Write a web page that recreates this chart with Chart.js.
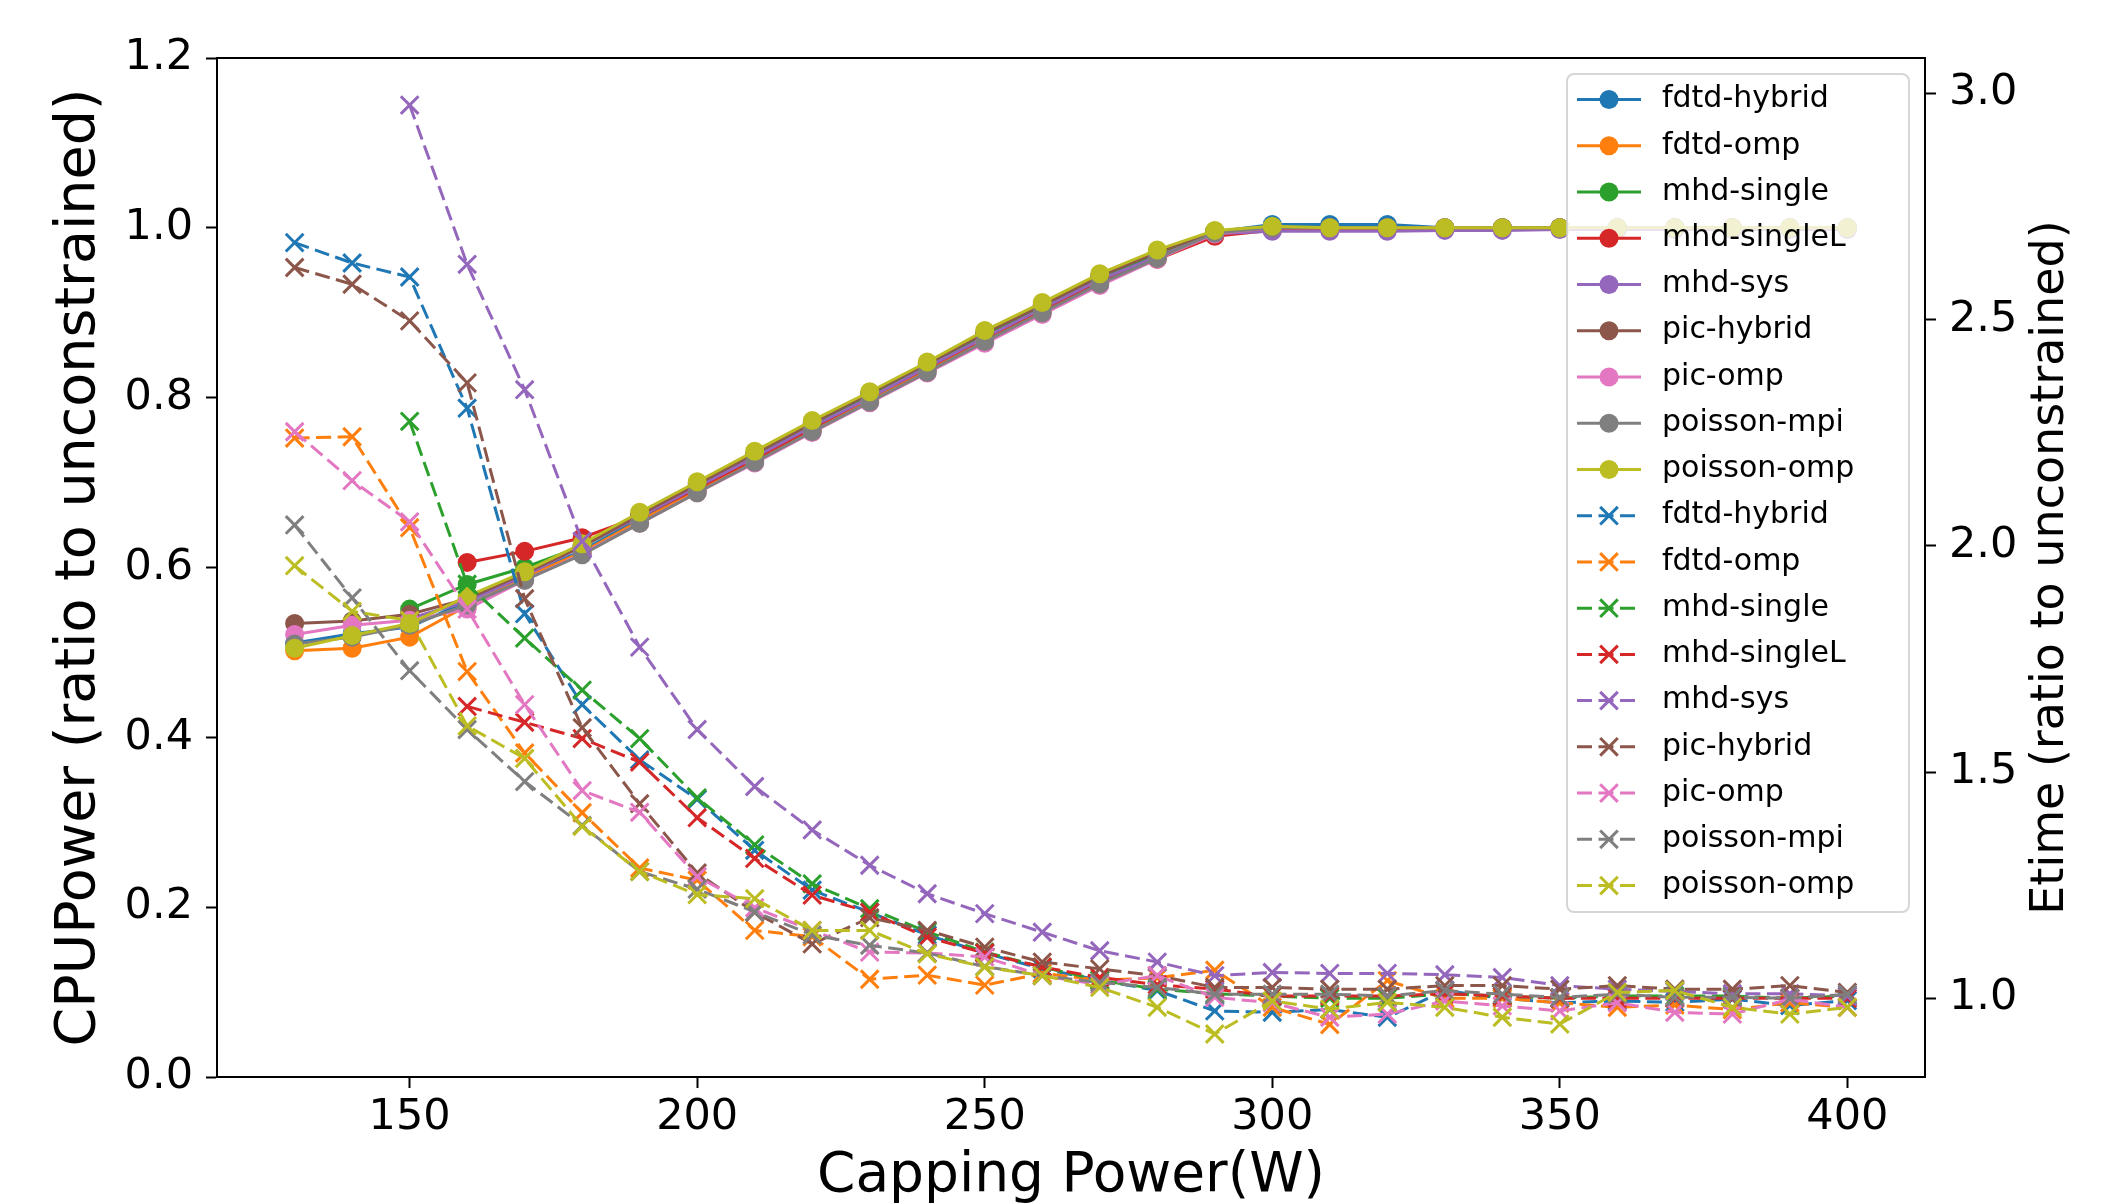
<!DOCTYPE html>
<html lang="en">
<head>
    <meta charset="UTF-8">
    <title>CPUPower and Etime vs Capping Power</title>
    <script src="https://cdn.jsdelivr.net/npm/chart.js"></script>
    <style>
        html, body {
            margin: 0;
            padding: 0;
            background: #fff;
        }

        canvas {
            display: block;
        }
    </style>
</head>
<body>
    <canvas id="powerChart" width="2118" height="1204"></canvas>

    <script>
        // capping power (W)
        const caps = [130, 140, 150, 160, 170, 180, 190, 200, 210, 220, 230, 240, 250, 260,
                      270, 280, 290, 300, 310, 320, 330, 340, 350, 360, 370, 380, 390, 400];

        const appNames = ['fdtd-hybrid', 'fdtd-omp', 'mhd-single', 'mhd-singleL', 'mhd-sys',
                          'pic-hybrid', 'pic-omp', 'poisson-mpi', 'poisson-omp'];
        const appColors = ['#1f77b4', '#ff7f0e', '#2ca02c', '#d62728', '#9467bd',
                           '#8c564b', '#e377c2', '#7f7f7f', '#bcbd22'];

        // CPUPower (ratio to unconstrained) - left axis, solid lines
        const cpuFdtdHybrid = [0.511, 0.522, 0.530, 0.560, 0.590, 0.620, 0.657, 0.693, 0.728, 0.764, 0.799, 0.834, 0.870, 0.904,
                               0.938, 0.968, 0.995, 1.004, 1.004, 1.004, 1.000, 1.000, 1.000, 1.000, 1.000, 1.000, 1.000, 1.000];
        const cpuFdtdOmp = [0.502, 0.505, 0.518, 0.555, 0.588, 0.618, 0.655, 0.690, 0.726, 0.762, 0.797, 0.832, 0.868, 0.902,
                            0.936, 0.966, 0.995, 1.000, 1.000, 1.000, 1.000, 1.000, 1.000, 1.000, 1.000, 1.000, 1.000, 1.000];
        const cpuMhdSingle = [null, null, 0.551, 0.580, 0.600, 0.625, 0.660, 0.696, 0.732, 0.768, 0.803, 0.838, 0.874, 0.908,
                              0.942, 0.970, 0.996, 1.000, 1.000, 1.000, 1.000, 1.000, 1.000, 1.000, 1.000, 1.000, 1.000, 1.000];
        const cpuMhdSingleL = [null, null, null, 0.606, 0.619, 0.635, 0.660, 0.693, 0.728, 0.764, 0.800, 0.835, 0.870, 0.904,
                               0.937, 0.963, 0.990, 0.997, 0.998, 0.998, 0.999, 0.999, 1.000, 1.000, 1.000, 1.000, 1.000, 1.000];
        const cpuMhdSys = [null, null, 0.540, 0.560, 0.590, 0.625, 0.660, 0.695, 0.730, 0.766, 0.800, 0.836, 0.871, 0.905,
                           0.939, 0.966, 0.993, 0.996, 0.996, 0.996, 0.997, 0.997, 0.998, 0.998, 0.998, 0.998, 0.998, 0.998];
        const cpuPicHybrid = [0.534, 0.537, 0.545, 0.563, 0.593, 0.625, 0.662, 0.698, 0.734, 0.770, 0.805, 0.840, 0.876, 0.909,
                              0.943, 0.971, 0.996, 1.000, 1.000, 1.000, 1.000, 1.000, 1.000, 1.000, 1.000, 1.000, 1.000, 1.000];
        const cpuPicOmp = [0.521, 0.532, 0.538, 0.551, 0.585, 0.616, 0.652, 0.688, 0.723, 0.759, 0.794, 0.829, 0.864, 0.898,
                           0.932, 0.963, 0.993, 1.000, 1.000, 1.000, 1.000, 1.000, 1.000, 1.000, 1.000, 1.000, 1.000, 1.000];
        const cpuPoissonMpi = [0.510, 0.518, 0.532, 0.556, 0.585, 0.615, 0.652, 0.688, 0.724, 0.760, 0.795, 0.830, 0.866, 0.900,
                               0.934, 0.964, 0.994, 1.000, 1.000, 1.000, 1.000, 1.000, 1.000, 1.000, 1.000, 1.000, 1.000, 1.000];
        const cpuPoissonOmp = [0.505, 0.520, 0.534, 0.566, 0.595, 0.628, 0.665, 0.701, 0.737, 0.773, 0.807, 0.842, 0.879, 0.912,
                               0.946, 0.974, 0.997, 1.002, 1.000, 1.000, 1.000, 1.000, 1.000, 1.000, 1.000, 1.000, 1.000, 1.000];

        // Etime (ratio to unconstrained) - right axis, dashed lines
        const etFdtdHybrid = [2.670, 2.625, 2.594, 2.304, 1.850, 1.649, 1.527, 1.440, 1.327, 1.239, 1.190, 1.140, 1.100, 1.065,
                              1.040, 1.017, 0.972, 0.969, 0.975, 0.958, 1.017, 1.000, 0.990, 0.994, 0.991, 0.998, 0.984, 0.995];
        const etFdtdOmp = [2.238, 2.241, 2.040, 1.722, 1.542, 1.410, 1.288, 1.261, 1.150, 1.136, 1.042, 1.051, 1.029, 1.055,
                           1.040, 1.045, 1.062, 0.980, 0.942, 1.039, 1.000, 1.000, 0.990, 0.980, 0.985, 0.975, 0.990, 0.980];
        const etMhdSingle = [null, null, 2.275, 1.915, 1.796, 1.681, 1.574, 1.443, 1.339, 1.253, 1.198, 1.147, 1.102, 1.069,
                             1.040, 1.020, 1.010, 1.005, 1.000, 1.000, 1.010, 1.005, 1.000, 1.005, 1.005, 1.005, 1.000, 1.005];
        const etMhdSingleL = [null, null, null, 1.645, 1.610, 1.574, 1.522, 1.399, 1.309, 1.228, 1.190, 1.135, 1.100, 1.069,
                              1.046, 1.030, 1.020, 1.005, 1.005, 1.005, 1.010, 1.005, 1.000, 1.000, 1.000, 1.000, 1.000, 1.000];
        const etMhdSys = [null, null, 2.974, 2.622, 2.345, 2.010, 1.776, 1.594, 1.468, 1.372, 1.294, 1.231, 1.187, 1.146,
                          1.105, 1.080, 1.050, 1.057, 1.055, 1.055, 1.052, 1.046, 1.028, 1.020, 1.015, 1.010, 1.010, 1.005];
        const etPicHybrid = [2.615, 2.578, 2.497, 2.360, 1.883, 1.598, 1.430, 1.277, 1.190, 1.120, 1.178, 1.150, 1.113, 1.080,
                             1.065, 1.050, 1.024, 1.024, 1.020, 1.020, 1.028, 1.028, 1.020, 1.028, 1.020, 1.020, 1.028, 1.013];
        const etPicOmp = [2.252, 2.144, 2.053, 1.860, 1.649, 1.459, 1.411, 1.269, 1.200, 1.150, 1.102, 1.100, 1.091, 1.050,
                          1.030, 1.050, 1.002, 0.990, 0.958, 0.965, 0.994, 0.983, 0.972, 0.990, 0.969, 0.965, 0.998, 0.980];
        const etPoissonMpi = [2.046, 1.885, 1.724, 1.594, 1.479, 1.382, 1.280, 1.241, 1.191, 1.140, 1.117, 1.100, 1.070, 1.050,
                              1.035, 1.024, 1.009, 1.009, 1.009, 1.005, 1.017, 1.009, 1.002, 1.009, 1.002, 1.002, 1.000, 1.009];
        const etPoissonOmp = [1.956, 1.855, 1.835, 1.602, 1.530, 1.380, 1.280, 1.229, 1.220, 1.150, 1.150, 1.098, 1.069, 1.050,
                              1.024, 0.980, 0.921, 0.994, 0.976, 0.991, 0.980, 0.958, 0.943, 1.013, 1.017, 0.980, 0.965, 0.980];

        const cpuSeries = [cpuFdtdHybrid, cpuFdtdOmp, cpuMhdSingle, cpuMhdSingleL, cpuMhdSys,
                           cpuPicHybrid, cpuPicOmp, cpuPoissonMpi, cpuPoissonOmp];
        const etimeSeries = [etFdtdHybrid, etFdtdOmp, etMhdSingle, etMhdSingleL, etMhdSys,
                             etPicHybrid, etPicOmp, etPoissonMpi, etPoissonOmp];

        // tick labels
        const xTicks = [150, 200, 250, 300, 350, 400];
        const cpuTicks = [0.0, 0.2, 0.4, 0.6, 0.8, 1.0, 1.2];
        const etimeTicks = [1.0, 1.5, 2.0, 2.5, 3.0];

        const FONT = 'DejaVu Sans';
        const DASH = [15, 6.5];

        function toPoints(values) {
            return caps.map((c, i) => ({ x: c, y: values[i] }));
        }

        const datasets = [];
        cpuSeries.forEach((vals, i) => {
            datasets.push({
                label: appNames[i],
                data: toPoints(vals),
                yAxisID: 'y',
                borderColor: appColors[i],
                backgroundColor: appColors[i],
                borderWidth: 3,
                pointStyle: 'circle',
                pointRadius: 8.5,
                pointBorderWidth: 2,
                pointBackgroundColor: appColors[i],
                pointBorderColor: appColors[i]
            });
        });
        etimeSeries.forEach((vals, i) => {
            datasets.push({
                label: appNames[i],
                data: toPoints(vals),
                yAxisID: 'y1',
                borderColor: appColors[i],
                backgroundColor: appColors[i],
                borderWidth: 3,
                borderDash: DASH,
                pointStyle: 'crossRot',
                pointRadius: 12.5,
                pointBorderWidth: 3,
                pointBorderColor: appColors[i]
            });
        });
        // later series on top, like matplotlib
        datasets.forEach((ds, i) => { ds.order = datasets.length - 1 - i; });

        // frame, legend box and right axis label
        const overlay = {
            id: 'overlay',
            afterDatasetsDraw(chart) {
                const c = chart.ctx;
                const a = chart.chartArea;
                c.save();
                c.strokeStyle = '#000';
                c.lineWidth = 2;
                c.strokeRect(a.left, a.top, a.right - a.left, a.bottom - a.top);

                const bx = a.right - 16, by = a.top + 16;
                const w = 342, h = 838;
                c.beginPath();
                c.roundRect(bx - w, by, w, h, 7);
                c.fillStyle = 'rgba(255,255,255,0.8)';
                c.fill();
                c.strokeStyle = 'rgba(204,204,204,0.8)';
                c.lineWidth = 2;
                c.stroke();

                c.font = '30px "' + FONT + '"';
                c.textBaseline = 'middle';
                c.textAlign = 'left';
                chart.data.datasets.forEach((ds, i) => {
                    const y = by + 25.5 + i * 46.24;
                    const x1 = bx - w + 10, x2 = bx - w + 74, xm = (x1 + x2) / 2;
                    c.strokeStyle = ds.borderColor;
                    c.lineWidth = 3;
                    c.setLineDash(ds.borderDash || []);
                    c.beginPath();
                    c.moveTo(x1, y);
                    c.lineTo(x2, y);
                    c.stroke();
                    c.setLineDash([]);
                    if (ds.pointStyle === 'circle') {
                        c.fillStyle = ds.borderColor;
                        c.beginPath();
                        c.arc(xm, y, 9.5, 0, Math.PI * 2);
                        c.fill();
                    } else {
                        const r = 8.8;
                        c.beginPath();
                        c.moveTo(xm - r, y - r);
                        c.lineTo(xm + r, y + r);
                        c.moveTo(xm - r, y + r);
                        c.lineTo(xm + r, y - r);
                        c.stroke();
                    }
                    c.fillStyle = '#000';
                    c.fillText(ds.label, bx - w + 95, y);
                });

                // right axis title reads bottom to top
                c.translate(2051, (a.top + a.bottom) / 2);
                c.rotate(-Math.PI / 2);
                c.textAlign = 'center';
                c.font = '46px "' + FONT + '"';
                c.fillText('Etime (ratio to unconstrained)', 0, 0);
                c.restore();
            }
        };

        const axisGrid = {
            display: true,
            drawOnChartArea: false,
            drawTicks: true,
            tickLength: 11,
            tickColor: '#000',
            tickWidth: 2
        };
        const axisBorder = { display: true, color: '#000', width: 2 };
        const tickFont = { family: FONT, size: 43 };

        const ctx = document.getElementById('powerChart').getContext('2d');
        const powerChart = new Chart(ctx, {
            type: 'line',
            data: { datasets: datasets },
            options: {
                responsive: false,
                animation: false,
                devicePixelRatio: 1,
                layout: { padding: { top: 58, left: 0, right: 0, bottom: 0 } },
                plugins: {
                    legend: { display: false },
                    tooltip: { enabled: false }
                },
                scales: {
                    x: {
                        type: 'linear',
                        min: 116.5,
                        max: 413.5,
                        afterBuildTicks: s => { s.ticks = xTicks.map(v => ({ value: v })); },
                        afterFit: s => { s.height = 127; },
                        ticks: { font: tickFont, color: '#000', padding: 4, maxRotation: 0, autoSkip: false },
                        grid: axisGrid,
                        border: axisBorder,
                        title: {
                            display: true,
                            text: 'Capping Power(W)',
                            color: '#000',
                            font: { family: FONT, size: 55, lineHeight: 1 },
                            padding: { top: 0, bottom: 0 }
                        }
                    },
                    y: {
                        position: 'left',
                        min: 0,
                        max: 1.2,
                        afterBuildTicks: s => { s.ticks = cpuTicks.map(v => ({ value: v })); },
                        afterFit: s => { s.width = 217; },
                        ticks: { font: tickFont, color: '#000', padding: 13, callback: v => v.toFixed(1) },
                        grid: axisGrid,
                        border: axisBorder,
                        title: {
                            display: true,
                            text: 'CPUPower (ratio to unconstrained)',
                            color: '#000',
                            font: { family: FONT, size: 55.5, lineHeight: 1 },
                            padding: { top: 52, bottom: 0 }
                        }
                    },
                    y1: {
                        position: 'right',
                        min: 0.826,
                        max: 3.078,
                        afterBuildTicks: s => { s.ticks = etimeTicks.map(v => ({ value: v })); },
                        afterFit: s => { s.width = 193; },
                        ticks: { font: tickFont, color: '#000', padding: 13, callback: v => v.toFixed(1) },
                        grid: axisGrid,
                        border: axisBorder
                    }
                }
            },
            plugins: [overlay]
        });
    </script>
</body>
</html>
